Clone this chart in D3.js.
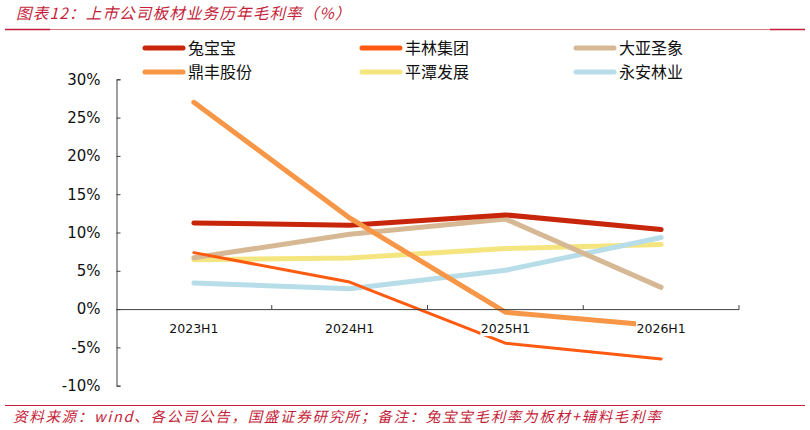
<!DOCTYPE html>
<html><head><meta charset="utf-8">
<script src="https://cdn.jsdelivr.net/npm/d3@7/dist/d3.min.js"></script>
<style>body{margin:0;background:#fff;} svg{display:block;}</style>
</head><body>
<svg id="c" width="810" height="430"></svg>
<script>
const categories = ["2023H1","2024H1","2025H1","2026H1"];
const seriesNames = ["兔宝宝","丰林集团","大亚圣象","鼎丰股份","平潭发展","永安林业"];
const s_tubaobao = [11.25, 10.95, 12.3, 10.4];
const s_fenglin = [7.37, 3.53, -4.45, -6.5];
const s_daya = [6.7, 9.77, 11.77, 2.84];
const s_dingfeng = [27.0, 11.9, -0.4, -2.2];
const s_pingtan = [6.45, 6.67, 7.9, 8.42];
const s_yongan = [3.4, 2.67, 5.06, 9.34];
const yTicks = [-10, -5, 0, 5, 10, 15, 20, 25, 30];

const colors = ["#C8260A","#FF5A10","#D7B894","#F79646","#F5E57F","#B7DDE8"];
const widths = [5, 3, 5, 5, 5, 5];
const allSeries = [s_tubaobao, s_fenglin, s_daya, s_dingfeng, s_pingtan, s_yongan];

const svg = d3.select("#c");
const red = "#C41E3A";

// title
svg.append("text").attr("x", 16).attr("y", 19)
  .attr("font-family","Noto Sans CJK SC").attr("font-size", 15.5).attr("font-style","italic")
  .attr("letter-spacing", 1.2)
  .attr("fill", red).text("图表12：上市公司板材业务历年毛利率（%）");
svg.append("line").attr("x1",5).attr("x2",805).attr("y1",29.5).attr("y2",29.5)
  .attr("stroke","#D9737F").attr("stroke-width",1);
svg.append("line").attr("x1",5).attr("x2",50).attr("y1",29.5).attr("y2",29.5)
  .attr("stroke",red).attr("stroke-width",1.5);
svg.append("line").attr("x1",770).attr("x2",805).attr("y1",29.5).attr("y2",29.5)
  .attr("stroke",red).attr("stroke-width",1.5);

// footer
svg.append("line").attr("x1",5).attr("x2",805).attr("y1",405.5).attr("y2",405.5)
  .attr("stroke",red).attr("stroke-width",1.2);
svg.append("text").attr("x", 13).attr("y", 422)
  .attr("font-family","Noto Sans CJK SC").attr("font-size", 14.5).attr("font-style","italic")
  .attr("letter-spacing", 1.7)
  .attr("fill", red).text("资料来源：wind、各公司公告，国盛证券研究所；备注：兔宝宝毛利率为板材+辅料毛利率");

const x = d3.scaleBand().domain(categories).range([116, 739]);
const y = d3.scaleLinear().domain([-10, 30]).range([385.7, 79.3]);

// y axis
const yAxis = svg.append("g").attr("transform","translate(116.5,0)")
  .call(d3.axisRight(y).tickValues(yTicks).tickSize(4).tickFormat(d => d + "%"));
yAxis.select(".domain").attr("stroke","#404040");
yAxis.selectAll(".tick line").attr("stroke","#404040");
yAxis.selectAll(".tick text").attr("x", -16).attr("text-anchor","end")
  .attr("font-family","DejaVu Sans").attr("font-size",15).attr("fill","#111");

// lines
const line = d3.line().x((d,i) => x(categories[i]) + x.bandwidth()/2).y(d => y(d));
const order = [4,5,2,1,0,3];
order.forEach(k => {
  svg.append("path").datum(allSeries[k]).attr("d", line)
    .attr("fill","none").attr("stroke", colors[k]).attr("stroke-width", widths[k])
    .attr("stroke-linecap","round").attr("stroke-linejoin","round");
});

// x axis
const xg = svg.append("g").attr("transform", `translate(0,${y(0)})`);
xg.append("line").attr("x1",116).attr("x2",739).attr("y1",0.5).attr("y2",0.5).attr("stroke","#404040");
const bounds = categories.map(c => x(c) + x.bandwidth());
xg.selectAll("line.t").data(bounds).enter().append("line")
  .attr("x1", d => d).attr("x2", d => d).attr("y1", 0.5).attr("y2", -4).attr("stroke","#404040");
categories.forEach(c => {
  const cx = x(c) + x.bandwidth()/2;
  xg.append("rect").attr("x", cx - 25).attr("y", 11).attr("width", 50).attr("height", 16).attr("fill","#fff");
  xg.append("text").attr("x", cx).attr("y", 24).attr("text-anchor","middle")
    .attr("font-family","DejaVu Sans").attr("font-size",12.5).attr("fill","#111").text(c);
});

// legend
const legX = [143, 360, 574];
const legY = [48, 72];
seriesNames.forEach((n, i) => {
  const lx = legX[i % 3], ly = legY[Math.floor(i / 3)];
  svg.append("line").attr("x1", lx + 2).attr("x2", lx + 40).attr("y1", ly).attr("y2", ly)
    .attr("stroke", colors[i]).attr("stroke-width", 5).attr("stroke-linecap","round");
  svg.append("text").attr("x", lx + 45).attr("y", ly + 6)
    .attr("font-family","Noto Sans CJK SC").attr("font-size", 16).attr("fill","#111").text(n);
});
</script>
</body></html>
